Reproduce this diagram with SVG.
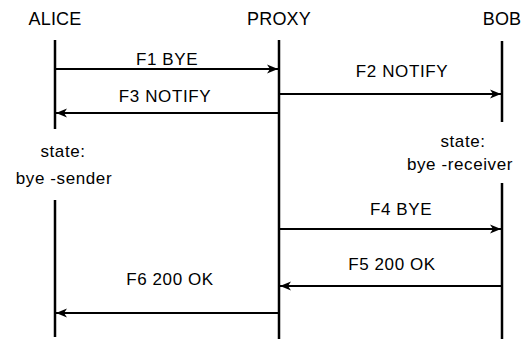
<svg xmlns="http://www.w3.org/2000/svg" width="522" height="339" viewBox="0 0 522 339">
<style>
text{font-family:"Liberation Sans",Arial,sans-serif;font-size:17px;fill:#000;text-anchor:middle;letter-spacing:0.6px}
.hd{font-size:18px;letter-spacing:0.2px}
.life{stroke:#000;stroke-width:2.5;fill:none}
.msg{stroke:#000;stroke-width:2;fill:none;marker-end:url(#ah)}
</style>
<defs>
<marker id="ah" markerUnits="userSpaceOnUse" markerWidth="12" markerHeight="10" refX="11" refY="5" orient="auto">
<path d="M0,0.5 L11,5 L0,9.5 L3,5 z" fill="#000"/>
</marker>
</defs>
<rect width="522" height="339" fill="#fff"/>
<g id="alice">
<text class="hd" x="55" y="25">ALICE</text>
<line class="life" x1="55" y1="40" x2="55" y2="129"/>
<line class="life" x1="55" y1="200" x2="55" y2="337"/>
<text x="63" y="157">state:</text>
<text x="64" y="184">bye -sender</text>
</g>
<g id="proxy">
<text class="hd" x="279" y="25">PROXY</text>
<line class="life" x1="279" y1="40" x2="279" y2="339"/>
</g>
<g id="bob">
<text class="hd" x="502" y="25">BOB</text>
<line class="life" x1="502" y1="41" x2="502" y2="122"/>
<line class="life" x1="502" y1="183" x2="502" y2="339"/>
<text x="463" y="147">state:</text>
<text x="460" y="170">bye -receiver</text>
</g>
<g id="connectors">
<line class="msg" x1="56" y1="69" x2="278" y2="69"/>
<text x="167" y="65">F1 BYE</text>
<line class="msg" x1="280" y1="94" x2="501" y2="94"/>
<text x="402" y="77">F2 NOTIFY</text>
<line class="msg" x1="278" y1="113" x2="56" y2="113"/>
<text x="165" y="102">F3 NOTIFY</text>
<line class="msg" x1="280" y1="229" x2="501" y2="229"/>
<text x="401" y="215">F4 BYE</text>
<line class="msg" x1="501" y1="286" x2="280" y2="286"/>
<text x="392" y="270">F5 200 OK</text>
<line class="msg" x1="278" y1="313" x2="56" y2="313"/>
<text x="170" y="285">F6 200 OK</text>
</g>
</svg>
